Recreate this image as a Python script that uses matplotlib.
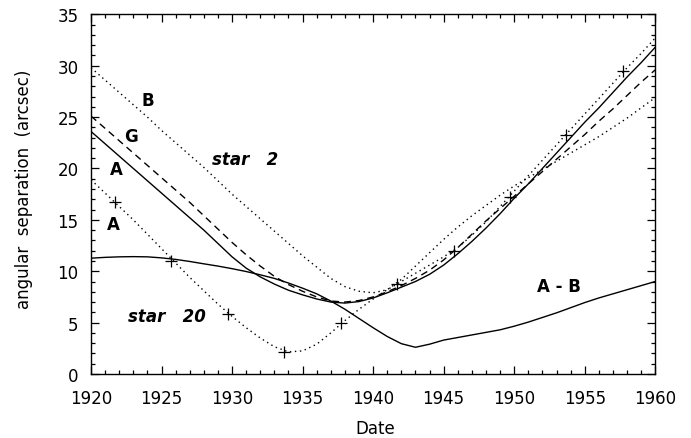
import numpy as np
import matplotlib
matplotlib.use("Agg")
import matplotlib.pyplot as plt
from matplotlib.ticker import MultipleLocator

plt.rcParams['font.family'] = ['DejaVu Sans']

years = list(range(1920, 1961))

star2_A = [23.6, 22.4, 21.2, 20.0, 18.8, 17.6, 16.4, 15.2, 14.0, 12.7,
           11.4, 10.3, 9.45, 8.75, 8.15, 7.7, 7.3, 7.0, 6.9, 7.05,
           7.4, 7.9, 8.45, 9.0, 9.7, 10.6, 11.7, 12.9, 14.2, 15.6,
           17.1, 18.5, 20.0, 21.5, 23.0, 24.5, 25.9, 27.4, 28.9, 30.3, 31.8]

star2_G = [25.1, 23.9, 22.7, 21.5, 20.3, 19.1, 17.9, 16.7, 15.4, 14.1,
           12.8, 11.6, 10.5, 9.5, 8.7, 8.05, 7.5, 7.1, 7.0, 7.15,
           7.5, 8.0, 8.6, 9.3, 10.1, 11.1, 12.3, 13.6, 14.9, 16.1,
           17.3, 18.5, 19.7, 20.9, 22.1, 23.3, 24.6, 25.8, 27.1, 28.4, 29.6]

star2_B = [29.8, 28.6, 27.4, 26.2, 25.0, 23.7, 22.5, 21.3, 20.1, 18.8,
           17.5, 16.3, 15.1, 13.9, 12.7, 11.5, 10.4, 9.3, 8.5, 8.05,
           7.9, 8.2, 9.2, 10.5, 11.8, 13.1, 14.3, 15.4, 16.4, 17.4,
           18.3, 19.1, 19.9, 20.7, 21.5, 22.3, 23.1, 24.0, 24.9, 25.9, 26.9]

star20_A = [18.9, 17.6, 16.3, 15.0, 13.6, 12.2, 10.8, 9.4, 8.1, 6.8,
            5.6, 4.5, 3.5, 2.65, 2.15, 2.25, 2.9, 4.0, 5.2, 6.3,
            7.3, 8.2, 9.0, 9.8, 10.6, 11.4, 12.3, 13.5, 14.8, 16.3,
            17.8, 19.3, 20.8, 22.3, 23.8, 25.3, 26.8, 28.3, 29.8, 31.2, 32.7]

star20_AB = [11.27, 11.35, 11.4, 11.42, 11.4, 11.3, 11.15, 10.95, 10.72, 10.5,
             10.25, 9.97, 9.65, 9.3, 8.85, 8.35, 7.8, 7.1, 6.3, 5.4,
             4.5, 3.65, 2.95, 2.6, 2.9, 3.3, 3.55, 3.8, 4.05, 4.3,
             4.65, 5.05, 5.5, 5.95, 6.45, 6.95, 7.4, 7.8, 8.2, 8.6, 9.0]

obs_years = [1921.7, 1925.7, 1929.7, 1933.7, 1937.7, 1941.7, 1945.7, 1949.7, 1953.7, 1957.7]
obs_vals = [16.7, 11.0, 5.85, 2.1, 4.95, 8.75, 12.0, 17.2, 23.3, 29.5]

labels = ["B", "G", "A", "A", "star   2", "star   20", "A - B"]
label_x = [1924.0, 1922.8, 1921.8, 1921.6, 1930.9, 1925.4, 1953.2]
label_y = [26.7, 23.2, 19.9, 14.6, 20.9, 5.67, 8.6]
label_italic = [False, False, False, False, True, True, False]

fig = plt.figure(figsize=(6.91, 4.39), dpi=100)
ax = fig.add_axes([0.1317, 0.1458, 0.8166, 0.8193])

lw = 1.0
ax.plot(years, star2_A, color='black', lw=lw, solid_capstyle='butt')
ax.plot(years, star2_G, color='black', lw=lw, dashes=(5, 3.5))
ax.plot(years, star2_B, color='black', lw=lw, dashes=(1, 2.6))
ax.plot(years, star20_A, color='black', lw=lw, dashes=(1, 2.6))
ax.plot(years, star20_AB, color='black', lw=lw)
ax.plot(obs_years, obs_vals, linestyle='none', marker='+', color='black',
        markersize=8, markeredgewidth=0.9)

for t, x, y, it in zip(labels, label_x, label_y, label_italic):
    ax.text(x, y, t, ha='center', va='center', fontsize=12, fontweight='bold',
            fontstyle='italic' if it else 'normal')

ax.set_xlim(1920, 1960)
ax.set_ylim(0, 35)
ax.xaxis.set_major_locator(MultipleLocator(5))
ax.xaxis.set_minor_locator(MultipleLocator(1))
ax.yaxis.set_major_locator(MultipleLocator(5))
ax.yaxis.set_minor_locator(MultipleLocator(1))
ax.tick_params(which='both', direction='in', top=True, right=True, width=0.9)
ax.tick_params(which='major', length=6)
ax.tick_params(which='minor', length=3)
ax.tick_params(axis='x', which='major', pad=11, labelsize=12)
ax.tick_params(axis='y', which='major', pad=9, labelsize=12)
for s in ax.spines.values():
    s.set_linewidth(1.0)

ax.set_xlabel("Date", fontsize=12)
ax.set_ylabel("angular  separation  (arcsec)", fontsize=12)
ax.xaxis.set_label_coords(0.503, -0.125)
ax.yaxis.set_label_coords(-0.102, 0.517)
ax.xaxis.label.set_va('top')
ax.yaxis.label.set_va('bottom')

fig.savefig("out.png", dpi=100)
